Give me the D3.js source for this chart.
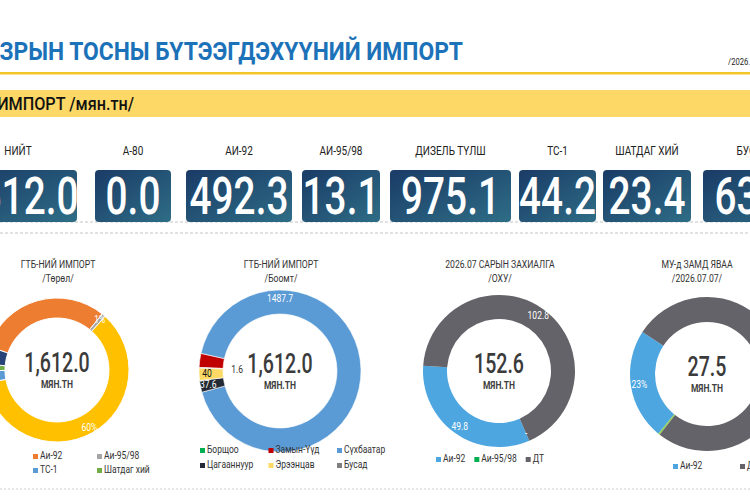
<!DOCTYPE html>
<html>
<head>
<meta charset="utf-8">
<script src="https://cdn.jsdelivr.net/npm/d3@7"></script>
<style>
  body { margin: 0; background: #fff; }
  svg { display: block; }
  text { font-family: Roboto, "Noto Sans", sans-serif; }
</style>
</head>
<body>
<svg id="chart" width="750" height="500"></svg>
<script>
// ---- data ----
var kpiLabels = ["НИЙТ", "А-80", "АИ-92", "АИ-95/98", "ДИЗЕЛЬ ТҮЛШ", "ТС-1", "ШАТДАГ ХИЙ", "БУСАД"];
var kpiValues = [1612.0, 0.0, 492.3, 13.1, 975.1, 44.2, 23.4, 63.9];

var typeNames  = ["А-80", "Аи-92", "Аи-95/98", "ДТ", "ТС-1", "Шатдаг хий", "Бусад"];
var typeValues = [0.0, 492.3, 13.1, 975.1, 44.2, 23.4, 63.9];

var portNames  = ["Борщоо", "Замын-Үүд", "Сүхбаатар", "Цагааннуур", "Эрээнцав", "Бусад"];
var portValues = [0.0, 45.1, 1487.7, 37.6, 40.0, 1.6];

var orderNames  = ["Аи-92", "Аи-95/98", "ДТ"];
var orderValues = [49.8, 0.0, 102.8];

var transitNames  = ["Аи-92", "Аи-95/98", "ДТ"];
var transitValues = [6.4, 0.1, 21.0];

// ---- layout ----
var svg = d3.select("#chart");
var SX = 0.8; // horizontal squeeze to mimic the condensed dashboard font

function ctext(g, x, y, str, size, opts) {
  opts = opts || {};
  return g.append("text")
    .attr("transform", "translate(" + x + "," + y + ") scale(" + (opts.sx || SX) + ",1)")
    .attr("text-anchor", opts.anchor || "middle")
    .style("font-size", size + "px")
    .style("font-weight", opts.weight || 400)
    .style("fill", opts.fill || "#333")
    .text(str);
}

// header
ctext(svg, 463, 60, "ГАЗРЫН ТОСНЫ БҮТЭЭГДЭХҮҮНИЙ ИМПОРТ", 25.5, {anchor: "end", weight: 700, fill: "#1c72b8", sx: 0.895});
ctext(svg, 728, 65, "/2026.07.07/", 9.5, {anchor: "start", fill: "#222"});
svg.append("rect").attr("x", 0).attr("y", 72).attr("width", 750).attr("height", 2.5).attr("fill", "#f3c526");
svg.append("rect").attr("x", 0).attr("y", 90).attr("width", 750).attr("height", 27).attr("fill", "#fdd866");
ctext(svg, 134, 110, "ГТБ-НИЙ ИМПОРТ /мян.тн/", 18, {anchor: "end", weight: 500, fill: "#111", sx: 0.9});

// KPI boxes
var defs = svg.append("defs");
var grad = defs.append("linearGradient").attr("id", "boxGrad")
  .attr("x1", 0).attr("y1", 0).attr("x2", 1).attr("y2", 1);
grad.append("stop").attr("offset", "0%").attr("stop-color", "#1a3b66");
grad.append("stop").attr("offset", "100%").attr("stop-color", "#2e6d86");

var boxX = [-41, 95, 186, 302, 390, 519, 603, 703];
var boxW = [118, 76, 106, 78, 121, 77, 88, 100];
var boxY = 170, boxH = 52;

svg.append("line").attr("x1", 0).attr("x2", 750).attr("y1", 222).attr("y2", 222)
  .attr("stroke", "#c4c4c4").attr("stroke-dasharray", "3,2");
svg.append("line").attr("x1", 0).attr("x2", 750).attr("y1", 233).attr("y2", 233)
  .attr("stroke", "#c4c4c4").attr("stroke-dasharray", "3,2");

var kpi = svg.selectAll("g.kpi").data(kpiValues).enter().append("g").attr("class", "kpi");
kpi.append("rect")
  .attr("x", function(d, i) { return boxX[i]; })
  .attr("y", boxY).attr("width", function(d, i) { return boxW[i]; })
  .attr("height", boxH).attr("rx", 4)
  .attr("fill", "url(#boxGrad)");
kpi.each(function(d, i) {
  var g = d3.select(this), cx = boxX[i] + boxW[i] / 2;
  ctext(g, cx, 155, kpiLabels[i], 12.5, {fill: "#222", sx: 0.8});
  ctext(g, cx, 214, d3.format(".1f")(d), 51, {fill: "#fff", weight: 500, sx: 0.76});
});

// ---- donuts ----
var charts = [
  {title: ["ГТБ-НИЙ ИМПОРТ", "/Төрөл/"], tx: 58, names: typeNames, values: typeValues,
   colors: ["#4472c4", "#ed7d31", "#a5a5a5", "#ffc000", "#5b9bd5", "#70ad47", "#264478"],
   cx: 57, cy: 370, r: 72, r0: 52, start: -71, dir: 1, stroke: 1,
   labels: [{i: 2, pct: true, fill: "#fff"}, {i: 3, pct: true, fill: "#fff"}],
   legend: {x: -31, y: 459, cols: 3, colW: 64, rowH: 14}},
  {title: ["ГТБ-НИЙ ИМПОРТ", "/Боомт/"], tx: 281, names: portNames, values: portValues,
   colors: ["#00b050", "#c00000", "#5b9bd5", "#222a35", "#ffd966", "#7f7f7f"],
   cx: 280, cy: 371, r: 81, r0: 57, start: 272.5, dir: 1, stroke: 0.6,
   labels: [{i: 2, angle: 0, fill: "#fff"}, {i: 3, fill: "#fff"}, {i: 4, fill: "#111"},
            {i: 5, r: 43, fill: "#333"}],
   legend: {x: 200, y: 453, cols: 3, colW: 68.5, rowH: 15}},
  {title: ["2026.07 САРЫН ЗАХИАЛГА", "/ОХУ/"], tx: 500, names: orderNames, values: orderValues,
   colors: ["#4da6e0", "#00b050", "#636369"],
   cx: 499, cy: 371, r: 76, r0: 52, start: 274, dir: -1, stroke: 0,
   labels: [{i: 0, fill: "#fff"}, {i: 1, dash: true, fill: "#fff"}, {i: 2, fill: "#fff"}],
   legend: {x: 436, y: 462, flow: true, gap: 9}},
  {title: ["МУ-д ЗАМД ЯВАА", "/2026.07.07/"], tx: 697, names: transitNames, values: transitValues,
   colors: ["#4da6e0", "#92d050", "#636369"],
   cx: 707, cy: 374, r: 77, r0: 52, start: 303, dir: -1, stroke: 0,
   labels: [{i: 0, pct: true, fill: "#fff"}, {i: 2, pct: true, fill: "#fff"}],
   legend: {x: 673, y: 469, cols: 2, colW: 67, rowH: 14, only: [0, 2]}}
];

charts.forEach(function(c) {
  var g = svg.append("g");
  var total = d3.sum(c.values);
  var a0 = c.start * Math.PI / 180;
  var pie = d3.pie().sort(null).value(function(d) { return d; })
    .startAngle(a0).endAngle(a0 + c.dir * 2 * Math.PI);
  var arc = d3.arc().innerRadius(c.r0).outerRadius(c.r);
  var arcs = pie(c.values);

  ctext(g, c.tx, 268, c.title[0], 10.5, {fill: "#333", sx: 0.82});
  ctext(g, c.tx, 282, c.title[1], 10.5, {fill: "#333", sx: 0.82});

  g.append("g").attr("transform", "translate(" + c.cx + "," + c.cy + ")")
    .selectAll("path").data(arcs).enter().append("path")
    .attr("d", arc)
    .attr("fill", function(d, i) { return c.colors[i]; })
    .attr("stroke", "#fff")
    .attr("stroke-width", function(d) { return d.value > 0 ? c.stroke : 0; });

  c.labels.forEach(function(lab) {
    var d = arcs[lab.i];
    var a = lab.angle != null ? lab.angle * Math.PI / 180 : (d.startAngle + d.endAngle) / 2;
    var rr = lab.r != null ? lab.r : (c.r + c.r0) / 2 + 4;
    var txt = lab.dash ? "-" : lab.pct ? d3.format(".0%")(d.value / total) : d3.format(".1f")(d.value).replace(/\.0$/, "");
    ctext(g, c.cx + rr * Math.sin(a), c.cy - rr * Math.cos(a) + 3.5, txt, 10, {fill: lab.fill, sx: 0.85});
  });

  ctext(g, c.cx, c.cy + 2, d3.format(",.1f")(total), 28, {fill: "#3b3b3b", weight: 500, sx: 0.7});
  ctext(g, c.cx, c.cy + 18, "МЯН.ТН", 10, {fill: "#404040", weight: 700, sx: 0.85});

  // legend
  var L = c.legend, idx = L.only || d3.range(c.names.length), xCursor = L.x;
  idx.forEach(function(i, k) {
    var x, y;
    if (L.flow) { x = xCursor; y = L.y; }
    else { x = L.x + (k % L.cols) * L.colW; y = L.y + Math.floor(k / L.cols) * L.rowH; }
    g.append("rect").attr("x", x).attr("y", y - 5).attr("width", 5).attr("height", 5).attr("fill", c.colors[i]);
    var t = ctext(g, x + 7, y, c.names[i], 10, {anchor: "start", fill: "#333", sx: 0.85});
    if (L.flow) xCursor = x + 7 + t.node().getComputedTextLength() * 0.85 + L.gap;
  });
});

svg.append("line").attr("x1", 0).attr("x2", 750).attr("y1", 489).attr("y2", 489)
  .attr("stroke", "#cfcfcf").attr("stroke-dasharray", "2,2");
</script>
</body>
</html>
